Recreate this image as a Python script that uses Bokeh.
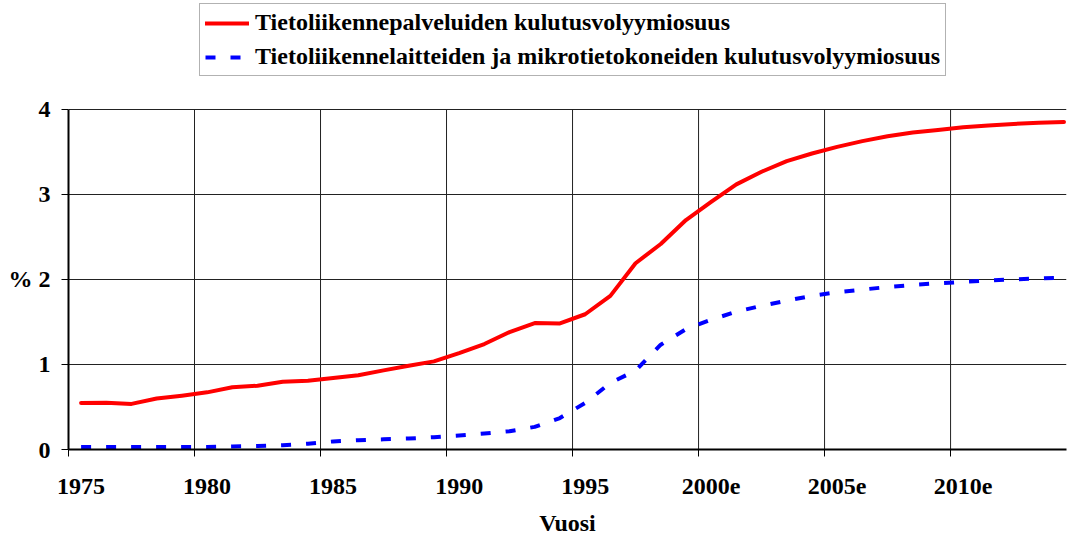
from bokeh.plotting import figure
from bokeh.models import FixedTicker, Range1d, Legend, LegendItem, ColumnDataSource
from bokeh.embed import file_html
from bokeh.resources import INLINE

years = list(range(1975, 2015))
services = [0.548, 0.55, 0.536, 0.60, 0.633, 0.672, 0.731, 0.75, 0.797, 0.809,
            0.84, 0.872, 0.93, 0.985, 1.036, 1.134, 1.24, 1.38, 1.486, 1.482,
            1.59, 1.806, 2.19, 2.416, 2.698, 2.91, 3.117, 3.265, 3.39, 3.48,
            3.558, 3.625, 3.683, 3.726, 3.757, 3.789, 3.81, 3.828, 3.84, 3.851]
devices = [0.03, 0.03, 0.03, 0.03, 0.03, 0.03, 0.035, 0.04, 0.05, 0.068,
           0.095, 0.11, 0.12, 0.129, 0.145, 0.164, 0.188, 0.215, 0.266, 0.37,
           0.547, 0.782, 0.927, 1.232, 1.415, 1.525, 1.62, 1.69, 1.75, 1.806,
           1.85, 1.88, 1.91, 1.935, 1.955, 1.97, 1.986, 2.0, 2.01, 2.02]
series_names = ["Tietoliikennepalveluiden kulutusvolyymiosuus",
                "Tietoliikennelaitteiden ja mikrotietokoneiden kulutusvolyymiosuus"]
label_years = [1975, 1980, 1985, 1990, 1995, 2000, 2005, 2010]
label_texts = ["1975", "1980", "1985", "1990", "1995", "2000e", "2005e", "2010e"]
y_ticks = [0, 1, 2, 3, 4]
y_labels = ["0", "1", "% 2", "3", "4"]

FONT = "Liberation Serif"
FS = "24px"

# layout geometry (pixels)
W = 1068
H = 538
BOTTOM = 88
PLOT_TOP = 109          # where y = 4 sits
frame_h = H - BOTTOM
y_top = y_ticks[-1] * frame_h / (frame_h - PLOT_TOP)

src = ColumnDataSource(dict(year=years, services=services, devices=devices))

p = figure(width=W, height=H, output_backend="svg", toolbar_location=None,
           x_range=Range1d(1974.5, 2014.1), y_range=Range1d(0, y_top))
p.min_border_left = 68
p.min_border_right = 2
p.min_border_top = 0
p.min_border_bottom = BOTTOM
p.outline_line_color = None
p.background_fill_color = "white"
p.border_fill_color = "white"

boundaries = [y - 0.5 for y in label_years]

# vertical grid lines, limited to the value range 0..4
p.segment(x0=boundaries[1:], x1=boundaries[1:],
          y0=[y_ticks[0]] * (len(boundaries) - 1),
          y1=[y_ticks[-1]] * (len(boundaries) - 1),
          line_color="#222222", line_width=1)

r1 = p.line("year", "services", source=src, line_color="#FF0000", line_width=4,
            line_join="round", line_cap="round")
r2 = p.line("year", "devices", source=src, line_color="#0000FF", line_width=4,
            line_dash="10 15", line_join="round")

# x axis
xa = p.xaxis[0]
xa.ticker = FixedTicker(ticks=label_years, minor_ticks=boundaries)
xa.major_label_overrides = {y: t for y, t in zip(label_years, label_texts)}
xa.major_tick_out = 0
xa.major_tick_in = 0
xa.minor_tick_out = 7
xa.minor_tick_in = 0
xa.minor_tick_line_color = "black"
xa.minor_tick_line_width = 1
xa.axis_line_color = "black"
xa.axis_line_width = 2
xa.major_label_standoff = 22
xa.major_label_text_font = FONT
xa.major_label_text_font_style = "bold"
xa.major_label_text_font_size = FS
xa.major_label_text_color = "black"
xa.axis_label = "Vuosi"
xa.axis_label_text_font = FONT
xa.axis_label_text_font_style = "bold"
xa.axis_label_text_font_size = FS
xa.axis_label_text_color = "black"
xa.axis_label_standoff = 13

# y axis
ya = p.yaxis[0]
ya.ticker = FixedTicker(ticks=y_ticks, minor_ticks=[])
ya.major_label_overrides = {t: s for t, s in zip(y_ticks, y_labels)}
ya.bounds = (y_ticks[0], y_ticks[-1])
ya.major_tick_out = 7
ya.major_tick_in = 0
ya.major_tick_line_color = "black"
ya.minor_tick_line_color = None
ya.axis_line_color = "black"
ya.axis_line_width = 2
ya.major_label_standoff = 11
ya.major_label_text_font = FONT
ya.major_label_text_font_style = "bold"
ya.major_label_text_font_size = FS
ya.major_label_text_color = "black"

# grids
p.xgrid.grid_line_color = None
p.ygrid.ticker = FixedTicker(ticks=y_ticks[1:])
p.ygrid.grid_line_color = "#222222"
p.ygrid.grid_line_width = 1

legend = Legend(items=[LegendItem(label=series_names[0], renderers=[r1]),
                       LegendItem(label=series_names[1], renderers=[r2])],
                location=(131, frame_h - 77))
legend.label_text_font = FONT
legend.label_text_font_style = "bold"
legend.label_text_font_size = FS
legend.label_text_color = "black"
legend.label_height = 24
legend.glyph_height = 24
legend.glyph_width = 44
legend.label_standoff = 6
legend.spacing = 7
legend.padding = 5
legend.margin = 0
legend.border_line_color = "#666666"
legend.border_line_width = 1.5
legend.background_fill_color = "white"
legend.background_fill_alpha = 1
p.add_layout(legend, "center")

open("out.html", "w").write(file_html(p, INLINE))
